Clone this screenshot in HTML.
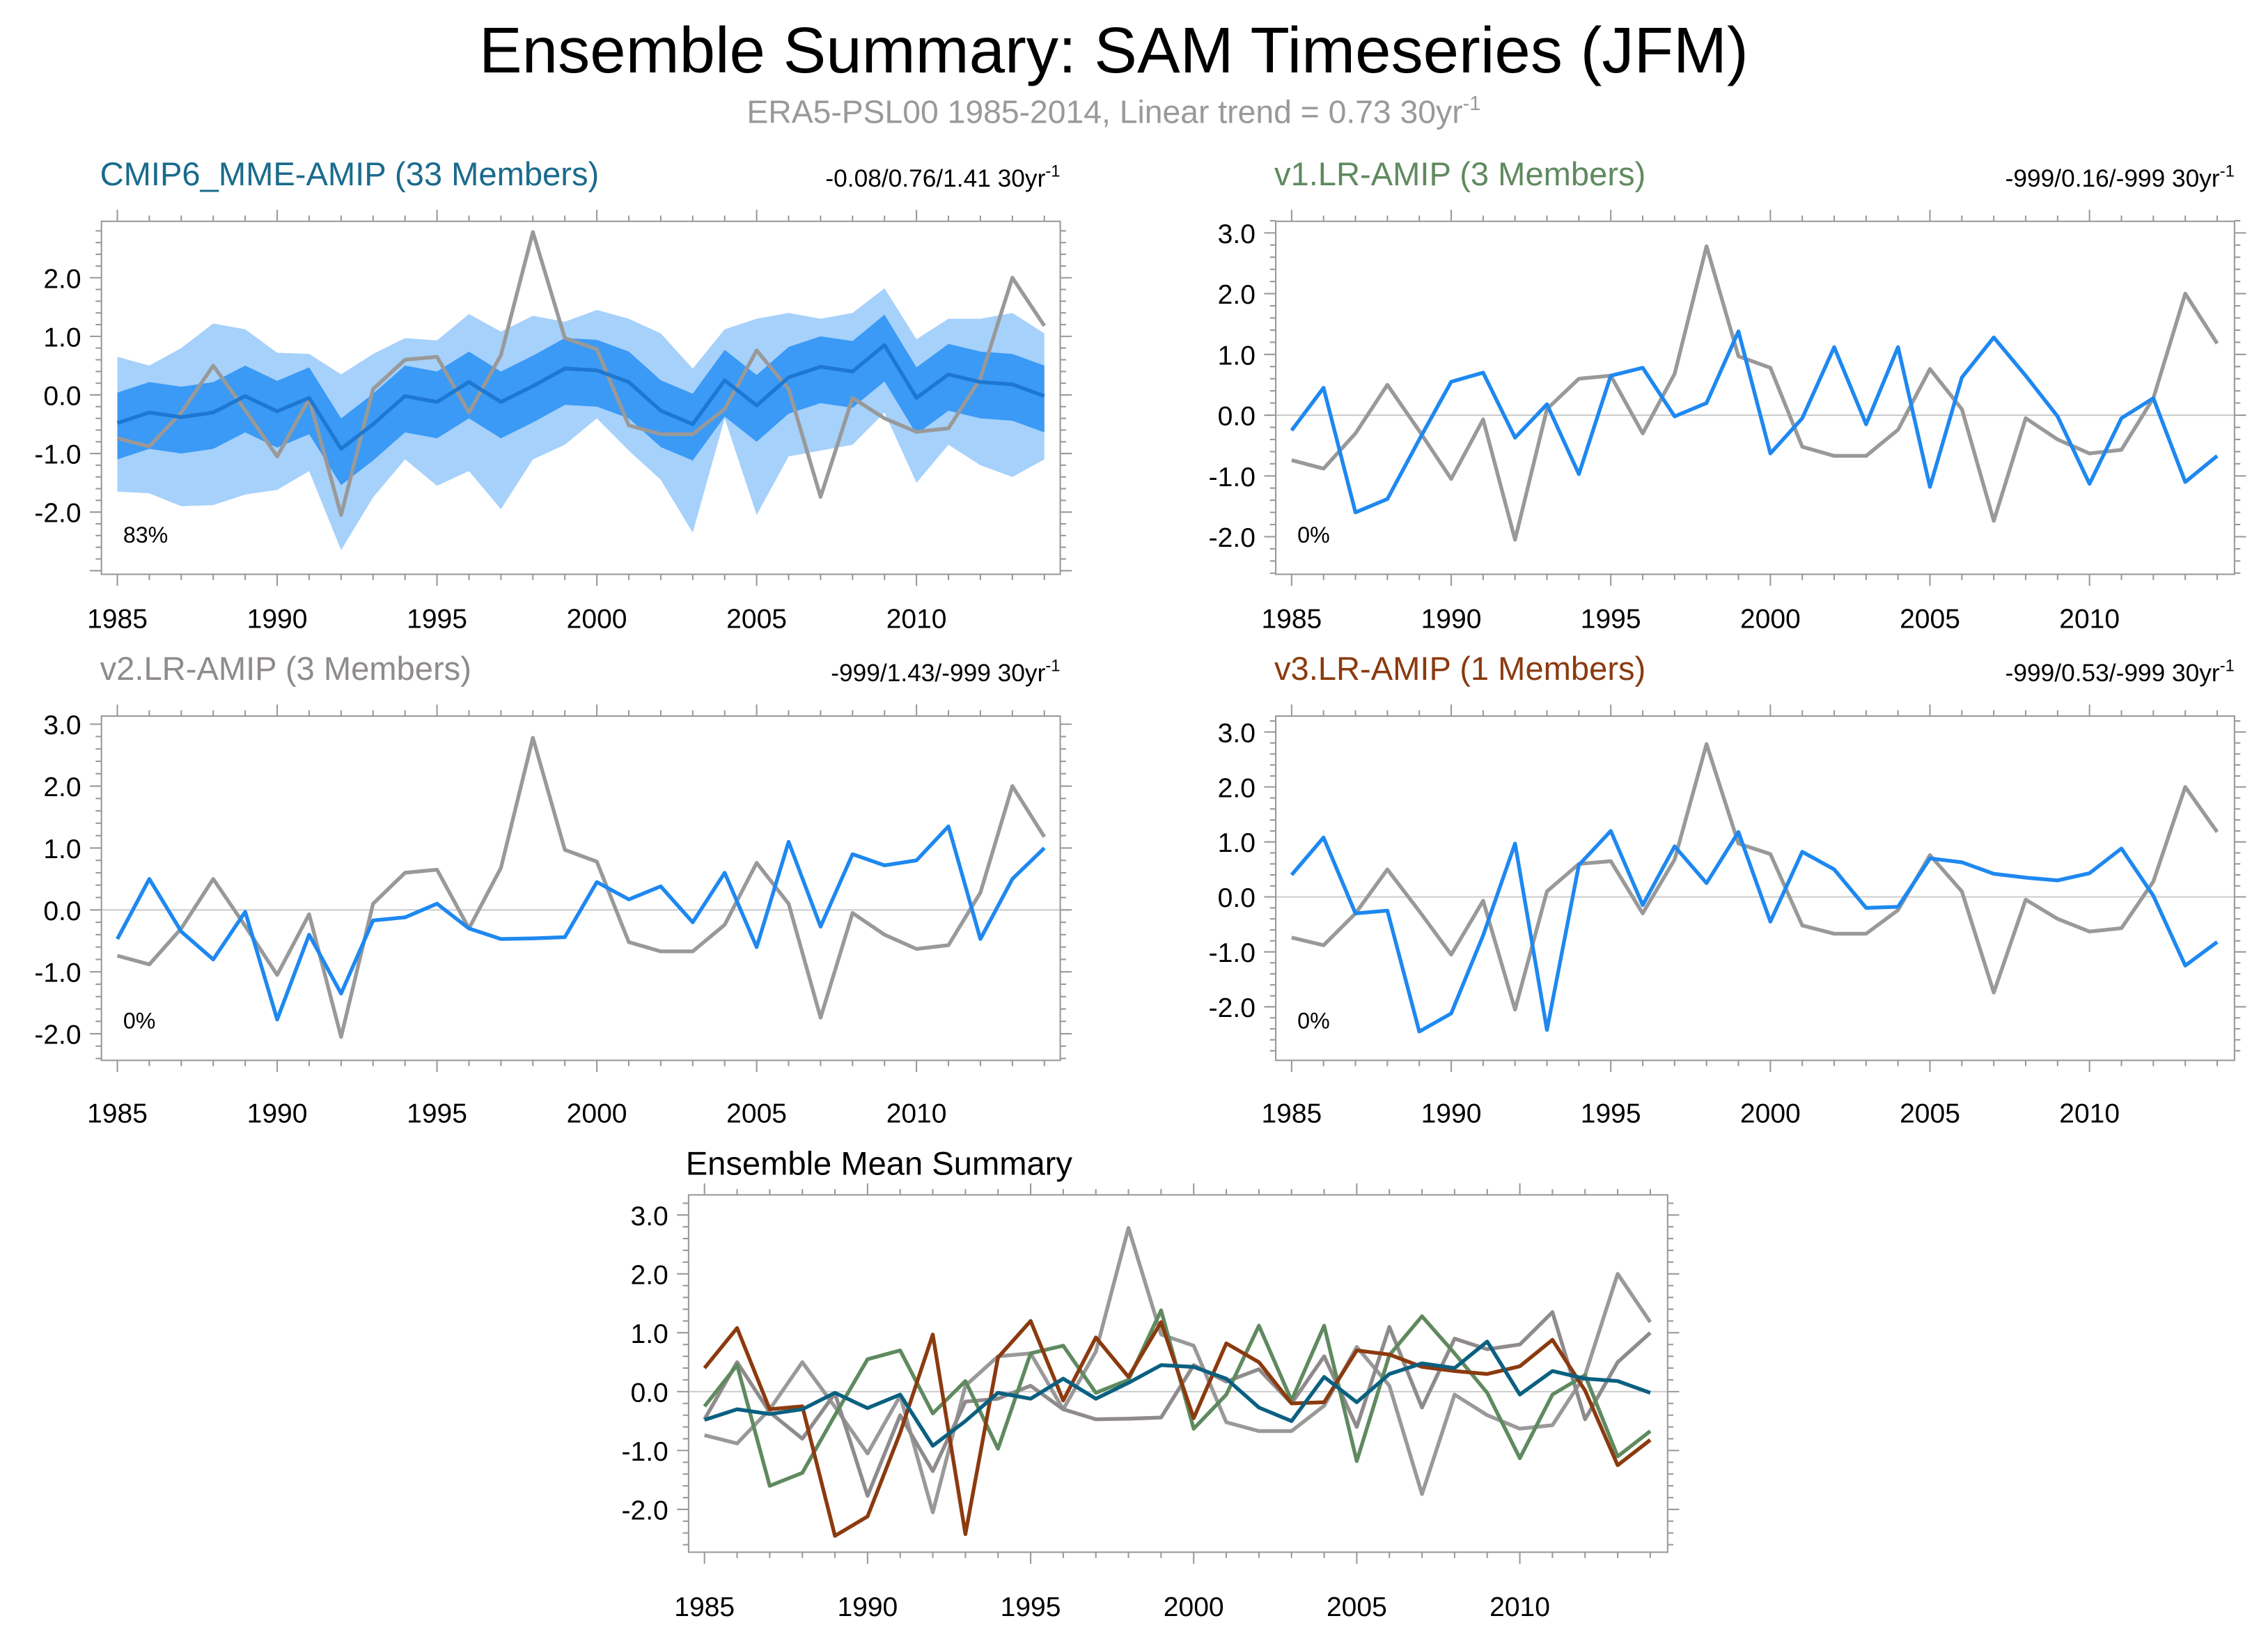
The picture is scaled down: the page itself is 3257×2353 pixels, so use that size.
<!DOCTYPE html>
<html><head><meta charset="utf-8"><style>
html,body{margin:0;padding:0;background:#fff}
svg{display:block}
text{font-family:"Liberation Sans",sans-serif}
</style></head><body>
<svg id="s" width="3257" height="2353" viewBox="0 0 1568 1133" xmlns="http://www.w3.org/2000/svg">
<text x="770" y="50" font-size="44.5" text-anchor="middle">Ensemble Summary: SAM Timeseries (JFM)</text>
<text x="770" y="85" font-size="22.3" fill="#999" text-anchor="middle">ERA5-PSL00 1985-2014, Linear trend = 0.73 30yr<tspan font-size="14" dy="-9">-1</tspan></text>
</svg>
<script>
const S=document.getElementById('s');const NS='http://www.w3.org/2000/svg';
function el(t,a,txt){const e=document.createElementNS(NS,t);for(const k in a)e.setAttribute(k,a[k]);if(txt!==undefined)e.textContent=txt;S.appendChild(e);return e;}
const era=[-0.74,-0.88,-0.3,0.5,-0.26,-1.05,-0.07,-2.05,0.1,0.6,0.65,-0.3,0.68,2.78,0.97,0.78,-0.52,-0.67,-0.67,-0.24,0.76,0.1,-1.74,-0.05,-0.4,-0.63,-0.57,0.28,2.0,1.18];
const v1=[-0.25,0.45,-1.6,-1.38,-0.4,0.55,0.7,-0.37,0.18,-0.97,0.65,0.78,-0.02,0.2,1.38,-0.63,-0.05,1.12,-0.15,1.12,-1.18,0.62,1.28,0.65,-0.02,-1.13,-0.05,0.28,-1.1,-0.67];
const v2=[-0.47,0.5,-0.35,-0.8,-0.03,-1.77,-0.4,-1.35,-0.17,-0.12,0.1,-0.3,-0.47,-0.46,-0.44,0.45,0.17,0.38,-0.2,0.6,-0.6,1.1,-0.27,0.9,0.72,0.8,1.35,-0.47,0.5,1.0];
const v3=[0.4,1.08,-0.3,-0.25,-2.45,-2.12,-0.7,0.97,-2.42,0.58,1.2,-0.15,0.92,0.25,1.18,-0.45,0.82,0.5,-0.2,-0.18,0.7,0.63,0.42,0.35,0.3,0.43,0.88,0.02,-1.25,-0.82];
const mm=[-0.48,-0.3,-0.38,-0.3,-0.02,-0.28,-0.05,-0.92,-0.5,-0.02,-0.12,0.22,-0.12,0.15,0.45,0.42,0.22,-0.27,-0.5,0.25,-0.18,0.3,0.48,0.4,0.85,-0.05,0.35,0.22,0.18,-0.02];
const ou=[0.65,0.5,0.8,1.22,1.12,0.72,0.7,0.35,0.7,0.97,0.93,1.38,1.08,1.35,1.25,1.45,1.3,1.05,0.45,1.12,1.3,1.4,1.3,1.4,1.82,0.95,1.3,1.3,1.4,1.05];
const ol=[-1.65,-1.68,-1.9,-1.88,-1.7,-1.62,-1.3,-2.65,-1.75,-1.1,-1.55,-1.3,-1.95,-1.1,-0.85,-0.4,-0.95,-1.45,-2.35,-0.4,-2.05,-1.05,-0.95,-0.85,-0.3,-1.5,-0.85,-1.2,-1.4,-1.1];
function panel(p){
 const X=i=>p.x0+(p.x1-p.x0)*i/29, Y=v=>p.y0-v*p.u;
 if(p.band){
  let pts=ou.map((v,i)=>X(i)+','+Y(v)).concat(ol.map((v,i)=>X(i)+','+Y(v)).reverse());
  el('polygon',{points:pts.join(' '),fill:'#a6d1fb'});
  let iu=mm.map(v=>v+0.52),il=mm.map(v=>v-0.62);
  pts=iu.map((v,i)=>X(i)+','+Y(v)).concat(il.map((v,i)=>X(i)+','+Y(v)).reverse());
  el('polygon',{points:pts.join(' '),fill:'#3a9af5'});
 } else el('line',{x1:p.bx0,x2:p.bx1,y1:p.y0,y2:p.y0,stroke:'#ccc','stroke-width':1});
 p.series.forEach(s=>el('polyline',{points:s.d.map((v,i)=>X(i)+','+Y(v)).join(' '),fill:'none',stroke:s.c,'stroke-width':2.6,'stroke-linejoin':'round'}));
 el('rect',{x:p.bx0,y:p.by0,width:p.bx1-p.bx0,height:p.by1-p.by0,fill:'none',stroke:'#999','stroke-width':1});
 for(let i=0;i<30;i++){const x=X(i),L=(i%5==0)?8:4;
  el('line',{x1:x,x2:x,y1:p.by1,y2:p.by1+L,stroke:'#999'});el('line',{x1:x,x2:x,y1:p.by0,y2:p.by0-L,stroke:'#999'});
  if(i%5==0)el('text',{x:x,y:p.by1+p.lo,'font-size':18.8,'text-anchor':'middle'},1985+i);}
 for(let k=-30;k<=30;k++){const v=k/5,y=Y(v);if(y<p.by0-0.5||y>p.by1+0.5)continue;const maj=k%5==0,L=maj?8:4;
  el('line',{x1:p.bx0,x2:p.bx0-L,y1:y,y2:y,stroke:'#999'});el('line',{x1:p.bx1,x2:p.bx1+L,y1:y,y2:y,stroke:'#999'});
  if(maj&&(p.ymin===undefined||v>=p.ymin))el('text',{x:p.bx0-14,y:y+7,'font-size':18.8,'text-anchor':'end'},v.toFixed(1));}
 if(p.title){el('text',{x:p.bx0-1,y:p.by0-25,'font-size':22.7,fill:p.tc},p.title);
  const t=el('text',{x:p.bx1,y:p.by0-24,'font-size':17,'text-anchor':'end'},p.rt);
  const ts=document.createElementNS(NS,'tspan');ts.setAttribute('font-size','11.5');ts.setAttribute('dy','-7');ts.textContent='-1';t.appendChild(ts);}
 if(p.pct)el('text',{x:p.bx0+15,y:p.by1-22,'font-size':15.5},p.pct);
}
const G='#999';
panel({bx0:70,bx1:733,by0:153,by1:397,x0:81,x1:722,y0:273,u:40.5,band:1,ymin:-2,lo:37,title:'CMIP6_MME-AMIP (33 Members)',tc:'#1a6b8c',rt:'-0.08/0.76/1.41 30yr',pct:'83%',series:[{d:era,c:G},{d:mm,c:'#1e78d2'}]});
panel({bx0:882,bx1:1545,by0:153,by1:397,x0:893,x1:1533,y0:287,u:42,lo:37,title:'v1.LR-AMIP (3 Members)',tc:'#5f8a5f',rt:'-999/0.16/-999 30yr',pct:'0%',series:[{d:era,c:G},{d:v1,c:'#1e88f0'}]});
panel({bx0:70,bx1:733,by0:495,by1:733,x0:81,x1:722,y0:629,u:42.8,lo:43,title:'v2.LR-AMIP (3 Members)',tc:'#8f8a8c',rt:'-999/1.43/-999 30yr',pct:'0%',series:[{d:era,c:G},{d:v2,c:'#1e88f0'}]});
panel({bx0:882,bx1:1545,by0:495,by1:733,x0:893,x1:1533,y0:620,u:38,lo:43,title:'v3.LR-AMIP (1 Members)',tc:'#8b3a0f',rt:'-999/0.53/-999 30yr',pct:'0%',series:[{d:era,c:G},{d:v3,c:'#1e88f0'}]});
panel({bx0:476,bx1:1153,by0:826,by1:1073,x0:487,x1:1141,y0:962,u:40.7,lo:44,series:[{d:era,c:G},{d:v2,c:'#8f8a8c'},{d:v1,c:'#5f8a5f'},{d:v3,c:'#8b3a0f'},{d:mm,c:'#0a6080'}]});
el('text',{x:474,y:812,'font-size':22.7},'Ensemble Mean Summary');
</script>
</body></html>
